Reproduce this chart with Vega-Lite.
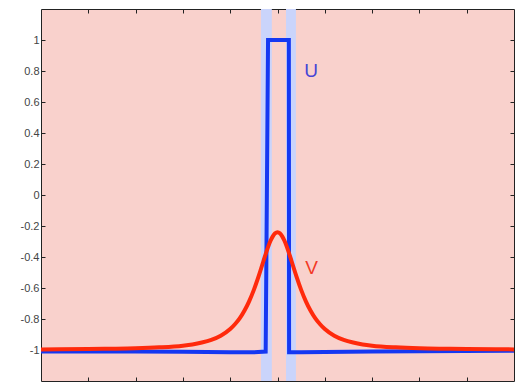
{
  "$schema": "https://vega.github.io/schema/vega-lite/v6.json",
  "width": 473,
  "height": 372,
  "autosize": "none",
  "padding": {"left": 41, "top": 9, "right": 1, "bottom": 2},
  "background": "white",
  "config": {
    "view": {"fill": "#f9d1cc", "stroke": "#222222", "strokeWidth": 1},
    "axis": {
      "domain": false,
      "grid": false,
      "tickColor": "#222222",
      "tickSize": -4,
      "tickWidth": 1,
      "labelFont": "Liberation Sans",
      "labelFontSize": 11,
      "labelColor": "#444444",
      "title": null
    }
  },
  "datasets": {
    "bands": [
      {"x0": -0.35, "x1": -0.12},
      {"x0": 0.18, "x1": 0.39}
    ],
    "u": [
      {"i": 0, "x": -5, "y": -1.01},
      {"i": 1, "x": -4, "y": -1.01},
      {"i": 2, "x": -3, "y": -1.01},
      {"i": 3, "x": -2, "y": -1.012},
      {"i": 4, "x": -1, "y": -1.015},
      {"i": 5, "x": -0.5, "y": -1.015},
      {"i": 6, "x": -0.25, "y": -1.01},
      {"i": 7, "x": -0.2, "y": 1.0},
      {"i": 8, "x": 0.24, "y": 1.0},
      {"i": 9, "x": 0.245, "y": -1.015},
      {"i": 10, "x": 0.5, "y": -1.015},
      {"i": 11, "x": 1, "y": -1.013},
      {"i": 12, "x": 2, "y": -1.01},
      {"i": 13, "x": 3, "y": -1.008},
      {"i": 14, "x": 5, "y": -1.005}
    ],
    "v": [
      {"x": -5, "y": -0.996},
      {"x": -4, "y": -0.994},
      {"x": -3.5, "y": -0.992},
      {"x": -3, "y": -0.989},
      {"x": -2.5, "y": -0.983},
      {"x": -2.0, "y": -0.972},
      {"x": -1.8, "y": -0.964},
      {"x": -1.6, "y": -0.952},
      {"x": -1.4, "y": -0.935},
      {"x": -1.2, "y": -0.908},
      {"x": -1.0, "y": -0.865},
      {"x": -0.9, "y": -0.834},
      {"x": -0.8, "y": -0.796},
      {"x": -0.7, "y": -0.747},
      {"x": -0.6, "y": -0.686},
      {"x": -0.5, "y": -0.612},
      {"x": -0.4, "y": -0.525},
      {"x": -0.3, "y": -0.429},
      {"x": -0.2, "y": -0.336},
      {"x": -0.15, "y": -0.297},
      {"x": -0.1, "y": -0.267},
      {"x": -0.05, "y": -0.247},
      {"x": 0, "y": -0.24},
      {"x": 0.05, "y": -0.247},
      {"x": 0.1, "y": -0.267},
      {"x": 0.15, "y": -0.297},
      {"x": 0.2, "y": -0.336},
      {"x": 0.3, "y": -0.429},
      {"x": 0.4, "y": -0.525},
      {"x": 0.5, "y": -0.612},
      {"x": 0.6, "y": -0.686},
      {"x": 0.7, "y": -0.747},
      {"x": 0.8, "y": -0.796},
      {"x": 0.9, "y": -0.834},
      {"x": 1.0, "y": -0.865},
      {"x": 1.2, "y": -0.908},
      {"x": 1.4, "y": -0.935},
      {"x": 1.6, "y": -0.952},
      {"x": 1.8, "y": -0.964},
      {"x": 2.0, "y": -0.972},
      {"x": 2.5, "y": -0.983},
      {"x": 3, "y": -0.989},
      {"x": 3.5, "y": -0.992},
      {"x": 4, "y": -0.994},
      {"x": 5, "y": -0.996}
    ],
    "labels": [
      {"x": 0.71, "y": 0.8, "t": "U", "c": "u"},
      {"x": 0.72, "y": -0.47, "t": "V", "c": "v"}
    ]
  },
  "layer": [
    {
      "data": {"name": "bands"},
      "mark": {"type": "rect", "color": "#cad4fb"},
      "encoding": {
        "x": {"field": "x0", "type": "quantitative", "scale": {"domain": [-5, 5], "nice": false}, "axis": null},
        "x2": {"field": "x1"}
      }
    },
    {
      "data": {"name": "u"},
      "mark": {"type": "line", "color": "#1538f2", "strokeWidth": 4, "strokeJoin": "miter", "clip": true},
      "encoding": {
        "x": {"field": "x", "type": "quantitative", "scale": {"domain": [-5, 5], "nice": false},
              "axis": {"orient": "bottom", "values": [-4, -3, -2, -1, 0, 1, 2, 3, 4], "labels": false}},
        "y": {"field": "y", "type": "quantitative", "scale": {"domain": [-1.2, 1.2], "nice": false, "zero": false},
              "axis": {"orient": "left", "values": [-1, -0.8, -0.6, -0.4, -0.2, 0, 0.2, 0.4, 0.6, 0.8, 1],
                       "labelExpr": "datum.value < 0 ? '-' + format(-datum.value, '') : format(datum.value, '')",
                       "labelPadding": 6}},
        "order": {"field": "i", "type": "quantitative"}
      }
    },
    {
      "data": {"name": "v"},
      "mark": {"type": "line", "color": "#ff2a0c", "strokeWidth": 4, "interpolate": "monotone", "clip": true},
      "encoding": {
        "x": {"field": "x", "type": "quantitative", "scale": {"domain": [-5, 5], "nice": false},
              "axis": {"orient": "top", "values": [-4, -3, -2, -1, 0, 1, 2, 3, 4], "labels": false}},
        "y": {"field": "y", "type": "quantitative", "scale": {"domain": [-1.2, 1.2], "nice": false, "zero": false},
              "axis": {"orient": "right", "values": [-1, -0.8, -0.6, -0.4, -0.2, 0, 0.2, 0.4, 0.6, 0.8, 1], "labels": false}}
      }
    },
    {
      "data": {"name": "labels"},
      "mark": {"type": "text", "font": "Liberation Sans", "fontSize": 19, "align": "center", "baseline": "middle"},
      "encoding": {
        "x": {"field": "x", "type": "quantitative", "axis": null},
        "y": {"field": "y", "type": "quantitative", "axis": null},
        "text": {"field": "t"},
        "color": {"field": "c", "type": "nominal", "scale": {"domain": ["u", "v"], "range": ["#4646d6", "#f23a26"]}, "legend": null}
      }
    }
  ],
  "resolve": {"axis": {"x": "independent", "y": "independent"}}
}
